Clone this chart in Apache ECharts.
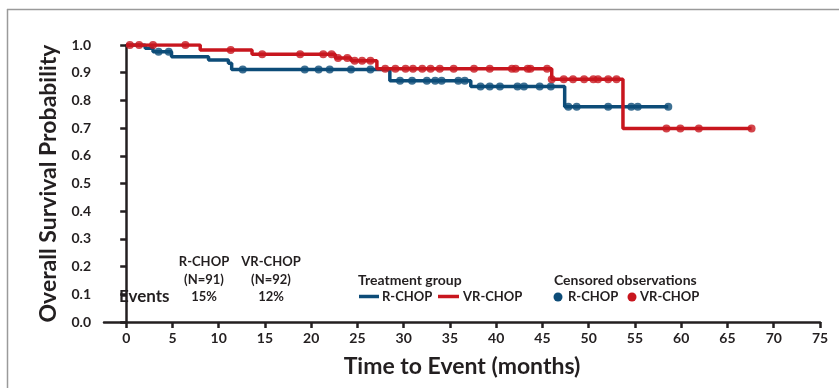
<!DOCTYPE html>
<html>
<head>
<meta charset="utf-8">
<script src="https://cdn.jsdelivr.net/npm/echarts@6/dist/echarts.min.js"></script>
<style>
  html, body { margin: 0; padding: 0; background: #ffffff; }
  #chart { width: 839px; height: 388px; }
</style>
</head>
<body>
<div id="chart"></div>
<script>
// Kaplan-Meier steps: [month, survival probability after that month]
const rchopSteps = [
  [0, 1.0], [2.05, 0.988], [2.9, 0.976], [4.9, 0.958], [8.9, 0.946],
  [11.05, 0.934], [11.4, 0.912], [28.5, 0.871], [37.25, 0.850], [47.4, 0.777]
];
const rchopEnd = 58.6;
const rchopCensored = [
  3.5, 4.6, 12.6, 19.3, 20.8, 22.0, 24.3, 26.4,
  29.6, 30.9, 32.5, 33.4, 34.1, 35.9, 36.6,
  38.3, 39.3, 40.4, 42.3, 43.0, 44.7, 45.9,
  47.8, 48.7, 52.1, 54.6, 55.3, 58.6
];

const vrchopSteps = [
  [0, 1.0], [8.0, 0.982], [13.6, 0.967], [22.6, 0.953], [24.3, 0.943],
  [27.1, 0.914], [46.0, 0.876], [53.7, 0.699]
];
const vrchopEnd = 67.6;
const vrchopCensored = [
  0.4, 1.4, 2.9, 6.4, 11.3, 14.7, 18.8, 21.3, 22.2, 22.9, 23.9,
  24.7, 25.5, 26.4, 28.0, 29.1, 30.2, 31.0, 32.0, 32.9, 33.9, 35.4,
  37.6, 39.3, 41.7, 42.1, 43.4, 43.7, 45.5,
  46.0, 47.3, 48.3, 49.5, 50.5, 51.0, 52.1, 53.0,
  58.4, 59.9, 61.9, 67.6
];

const xTicks = [0, 5, 10, 15, 20, 25, 30, 35, 40, 45, 50, 55, 60, 65, 70, 75];

const BLUE = '#0d4c78';
const RED = '#c8161e';
const INK = '#231f20';
const FONT = 'Lato';

// survival value in effect at time t
function survivalAt(steps, t) {
  let s = steps[0][1];
  for (const [m, v] of steps) { if (m <= t) s = v; }
  return s;
}
function curve(steps, end) {
  const pts = steps.map(p => [p[0], p[1]]);
  pts.push([end, steps[steps.length - 1][1]]);
  return pts;
}
function censorPoints(steps, times) {
  return times.map(t => [t, survivalAt(steps, t)]);
}

const chart = echarts.init(document.getElementById('chart'), null, { renderer: 'canvas' });

const txt = (text, x, y, opts = {}) => ({
  type: 'text',
  x, y,
  style: Object.assign({
    text, fill: INK, font: `bold 13px ${FONT}`,
    textAlign: 'center', textVerticalAlign: 'middle'
  }, opts)
});

chart.setOption({
  animation: false,
  grid: { left: 104, right: 19, top: 45, bottom: 66, containLabel: false },
  xAxis: {
    type: 'value',
    min: -2.4, max: 75,
    name: 'Time to Event (months)',
    nameLocation: 'middle',
    nameGap: 33,
    nameTextStyle: { color: INK, fontFamily: FONT, fontWeight: 'bold', fontSize: 23 },
    axisLine: { show: true, lineStyle: { color: INK, width: 2.5 } },
    axisTick: { show: true, customValues: xTicks, length: 6, lineStyle: { color: INK, width: 2.5 } },
    axisLabel: {
      customValues: xTicks, color: INK, fontFamily: FONT, fontWeight: 'bold', fontSize: 14, margin: 9
    },
    splitLine: { show: false }
  },
  yAxis: {
    type: 'value',
    min: 0, max: 1, interval: 0.1,
    name: 'Overall Survival Probability',
    nameLocation: 'middle',
    nameGap: 43,
    nameTextStyle: { color: INK, fontFamily: FONT, fontWeight: 'bold', fontSize: 23 },
    axisLine: { show: true, lineStyle: { color: INK, width: 2.5 } },
    axisTick: { show: true, length: 6, lineStyle: { color: INK, width: 2.5 } },
    axisLabel: {
      color: INK, fontFamily: FONT, fontWeight: 'bold', fontSize: 14, margin: 13,
      formatter: v => v.toFixed(1)
    },
    splitLine: { show: false }
  },
  series: [
    {
      name: 'R-CHOP', type: 'line', step: 'end', symbol: 'none',
      data: curve(rchopSteps, rchopEnd),
      lineStyle: { color: BLUE, width: 3.5 }, z: 2
    },
    {
      name: 'VR-CHOP', type: 'line', step: 'end', symbol: 'none',
      data: curve(vrchopSteps, vrchopEnd),
      lineStyle: { color: RED, width: 3.5 }, z: 3
    },
    {
      name: 'R-CHOP censored', type: 'scatter', symbol: 'circle', symbolSize: 8,
      data: censorPoints(rchopSteps, rchopCensored),
      itemStyle: { color: BLUE }, z: 4
    },
    {
      name: 'VR-CHOP censored', type: 'scatter', symbol: 'circle', symbolSize: 8,
      data: censorPoints(vrchopSteps, vrchopCensored),
      itemStyle: { color: RED }, z: 5
    }
  ],
  graphic: [
    // outer frame
    { type: 'line', shape: { x1: 7, y1: 9.5, x2: 839, y2: 9.5 }, style: { stroke: '#9a9a9a', lineWidth: 1.5 } },
    { type: 'line', shape: { x1: 7.5, y1: 9, x2: 7.5, y2: 388 }, style: { stroke: '#9a9a9a', lineWidth: 1.5 } },

    // events table
    txt('R-CHOP', 204, 262),
    txt('(N=91)', 204, 280),
    txt('15%', 204, 297),
    txt('VR-CHOP', 271, 262),
    txt('(N=92)', 271, 280),
    txt('12%', 271, 297),
    txt('Events', 119, 297, { textAlign: 'left', font: `bold 17px ${FONT}` }),

    // treatment group key
    txt('Treatment group', 358, 280, { textAlign: 'left', font: `bold 14px ${FONT}` }),
    { type: 'line', shape: { x1: 359, y1: 296.5, x2: 379, y2: 296.5 }, style: { stroke: BLUE, lineWidth: 3.5 } },
    txt('R-CHOP', 382, 297, { textAlign: 'left' }),
    { type: 'line', shape: { x1: 438, y1: 296.5, x2: 459, y2: 296.5 }, style: { stroke: RED, lineWidth: 3.5 } },
    txt('VR-CHOP', 463, 297, { textAlign: 'left' }),

    // censored observations key
    txt('Censored observations', 554, 280, { textAlign: 'left', font: `bold 14px ${FONT}` }),
    { type: 'circle', shape: { cx: 558, cy: 297, r: 4.5 }, style: { fill: BLUE } },
    txt('R-CHOP', 568, 297, { textAlign: 'left' }),
    { type: 'circle', shape: { cx: 632, cy: 297, r: 4.5 }, style: { fill: RED } },
    txt('VR-CHOP', 640, 297, { textAlign: 'left' })
  ]
});
</script>
</body>
</html>
